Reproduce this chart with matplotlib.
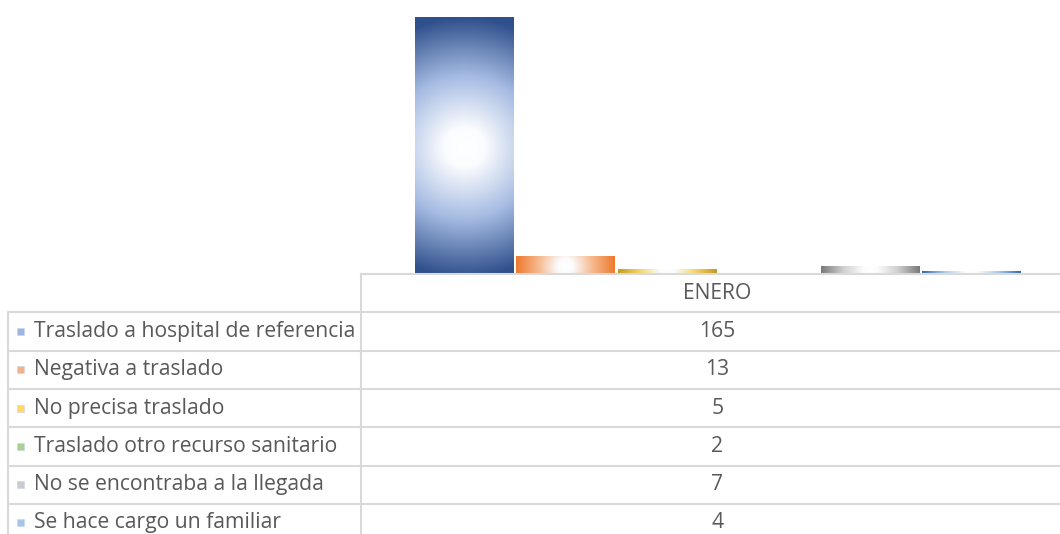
import matplotlib

matplotlib.use("Agg")
import matplotlib.pyplot as plt
import numpy as np
from matplotlib.colors import LinearSegmentedColormap
from matplotlib.lines import Line2D
from matplotlib.patches import Rectangle

W, H = 1060, 534
FONT = "Open Sans"
TEXT_COLOR = "#595959"
GRID_COLOR = "#d9d9d9"

MONTH = "ENERO"
SERIES = [
    "Traslado a hospital de referencia",
    "Negativa a traslado",
    "No precisa traslado",
    "Traslado otro recurso sanitario",
    "No se encontraba a la llegada",
    "Se hace cargo un familiar",
]
VALUES = [165, 13, 5, 2, 7, 4]
EDGE_COLORS = ["#30508c", "#ee7a30", "#c49a1e", "#5a9236", "#7a7a7a", "#2f68a8"]
MID_COLORS = ["#a5bbe2", "#f6b98f", "#f5d770", "#b5d59c", "#d0d0d0", "#a9c9e8"]
MARKER_COLORS = ["#9db5e0", "#f4b28a", "#ffd966", "#a9d18e", "#cccccc", "#a4c6e8"]

# Excel value axis did not start at zero
Y_MIN, Y_MAX = 2.2, 175.8


def fx(px):
    return px / W


def fy(py):
    return 1 - py / H


fig = plt.figure(figsize=(W / 100, H / 100), dpi=100)
ax = fig.add_axes([fx(362), fy(274), fx(698), 274 / H])
ax.set_xlim(-0.5, -0.5 + 698 / 711)
ax.set_ylim(Y_MIN, Y_MAX)
ax.axis("off")

n = len(VALUES)
offsets = (np.arange(n) - (n - 1) / 2) / (n + 1)
bars = ax.bar(offsets, VALUES, width=0.138, facecolor="none", edgecolor="none")

grid = np.linspace(-1, 1, 300)
gu, gv = np.meshgrid(grid, grid)
for bar, edge, mid in zip(bars, EDGE_COLORS, MID_COLORS):
    x0, y0 = bar.get_x(), bar.get_y()
    x1, y1 = x0 + bar.get_width(), y0 + bar.get_height()
    (p0x, p0y), (p1x, p1y) = ax.transData.transform([(x0, y0), (x1, y1)])
    hw, hh = abs(p1x - p0x) / 2, abs(p1y - p0y) / 2
    dist = np.sqrt((gu * hw) ** 2 + (gv * hh) ** 2) / max(hw, hh)
    dist = np.clip(dist, 0, 1)
    cmap = LinearSegmentedColormap.from_list(
        "g", [(0, "#ffffff"), (0.15, "#fbfcfe"), (0.55, mid), (1, edge)]
    )
    ax.imshow(
        dist,
        cmap=cmap,
        vmin=0,
        vmax=1,
        extent=(x0, x1, y0, y1),
        aspect="auto",
        interpolation="bilinear",
        zorder=2,
    )
ax.set_xlim(-0.5, -0.5 + 698 / 711)
ax.set_ylim(Y_MIN, Y_MAX)

# data table
row_h = 38.3
top = 274
col_x = 361
left = 8
value_x = (362 + 1073) / 2
FS = 15.2


def hline(y, x0, x1):
    fig.add_artist(
        Line2D([fx(x0), fx(x1)], [fy(y), fy(y)], color=GRID_COLOR, lw=1.5)
    )


def vline(x, y0, y1):
    fig.add_artist(
        Line2D([fx(x), fx(x)], [fy(y0), fy(y1)], color=GRID_COLOR, lw=1.5)
    )


hline(top, col_x, W)
vline(col_x, top, H)
vline(left, top + row_h, H)
for i in range(len(SERIES)):
    hline(top + row_h * (i + 1), left, W)

fig.text(
    fx(value_x),
    fy(top + row_h / 2),
    MONTH,
    ha="center",
    va="center",
    fontsize=FS,
    family=FONT,
    color=TEXT_COLOR,
)

for i, (label, value, mcol) in enumerate(zip(SERIES, VALUES, MARKER_COLORS)):
    yc = top + row_h * (i + 1.5)
    fig.add_artist(
        Rectangle(
            (fx(17), fy(yc + 3.5)),
            fx(7),
            7 / H,
            facecolor=mcol,
            edgecolor="#c8d4e8",
            lw=0.4,
        )
    )
    fig.text(
        fx(34),
        fy(yc),
        label,
        ha="left",
        va="center",
        fontsize=FS,
        family=FONT,
        color=TEXT_COLOR,
    )
    fig.text(
        fx(value_x),
        fy(yc),
        str(value),
        ha="center",
        va="center",
        fontsize=FS,
        family=FONT,
        color=TEXT_COLOR,
    )

fig.savefig("out.png", dpi=100)
